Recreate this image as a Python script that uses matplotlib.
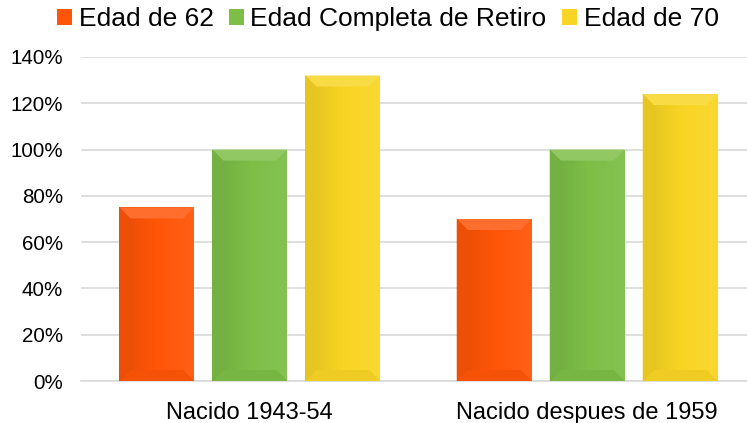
import numpy as np
import matplotlib.pyplot as plt
from matplotlib.colors import LinearSegmentedColormap, to_rgb
from matplotlib.patches import Polygon

plt.rcParams['font.family'] = ['Liberation Sans', 'DejaVu Sans']

groups = ['Nacido 1943-54', 'Nacido despues de 1959']
series = ['Edad de 62', 'Edad Completa de Retiro', 'Edad de 70']
edad_62 = [75, 70]
edad_completa = [100, 100]
edad_70 = [132, 124]
yticks = [0, 20, 40, 60, 80, 100, 120, 140]

colors = ['#FF5508', '#7DBE47', '#F8D524']
values = [edad_62, edad_completa, edad_70]


def shade(c, f):
    r, g, b = to_rgb(c)
    if f >= 1:
        return (r + (1 - r) * (f - 1), g + (1 - g) * (f - 1), b + (1 - b) * (f - 1))
    return (r * f, g * f, b * f)


fig = plt.figure(figsize=(7.47, 4.23), dpi=100)
ax = fig.add_axes([81 / 747, 42 / 423, 675 / 747, 324 / 423])

ax.set_xlim(-0.5, 1.5)
ax.set_ylim(0, 140)

x = np.arange(len(groups))
offset = 93 / 337.5
width = 75 / 337.5

# bevel size in data units (about 10 px)
bx = 11 / 337.5
by = 11 * 140 / 324

for i, (vals, col) in enumerate(zip(values, colors)):
    bars = ax.bar(x + (i - 1) * offset, vals, width, color=col, zorder=2,
                  label=series[i])
    cmap = LinearSegmentedColormap.from_list('g', [shade(col, 0.9), col, shade(col, 1.06)])
    for b in bars:
        x0, y0 = b.get_x(), b.get_y()
        w, h = b.get_width(), b.get_height()
        grad = np.linspace(0, 1, 64).reshape(1, -1)
        im = ax.imshow(grad, extent=[x0, x0 + w, y0, y0 + h], aspect='auto',
                       cmap=cmap, zorder=3)
        im.set_clip_path(b)
        top = Polygon([[x0, h], [x0 + w, h], [x0 + w - bx, h - by], [x0 + bx, h - by]],
                      closed=True, facecolor=shade(col, 1.15), edgecolor='none', zorder=4)
        ax.add_patch(top)
        bot = Polygon([[x0, 0], [x0 + w, 0], [x0 + w - bx, by], [x0 + bx, by]],
                      closed=True, facecolor=shade(col, 0.96), edgecolor='none', zorder=4)
        ax.add_patch(bot)
        left = Polygon([[x0, 0], [x0 + bx, by], [x0 + bx, h - by], [x0, h]],
                       closed=True, facecolor=shade(col, 0.93), edgecolor='none', zorder=4)
        ax.add_patch(left)

ax.set_yticks(yticks)
ax.set_yticklabels([f'{v}%' for v in yticks], fontsize=14.8)
ax.set_xticks(x)
ax.set_xticklabels(groups, fontsize=17)
ax.tick_params(axis='both', length=0, colors='black')
ax.tick_params(axis='y', pad=13)
ax.tick_params(axis='x', pad=15)
ax.yaxis.grid(True, color='#D9D9D9', linewidth=1.2, zorder=0)
ax.set_axisbelow(True)
for s in ['top', 'right', 'left']:
    ax.spines[s].set_visible(False)
ax.spines['bottom'].set_color('#D9D9D9')
ax.spines['bottom'].set_linewidth(1.2)

handles, labels = ax.get_legend_handles_labels()
fig.legend(handles, labels, loc='center', bbox_to_anchor=(388 / 747, 1 - 19 / 423),
           ncol=3, frameon=False, fontsize=19, handlelength=0.55, handleheight=0.55,
           handletextpad=0.25, columnspacing=0.6, borderpad=0)

fig.savefig('out.png', dpi=100)
